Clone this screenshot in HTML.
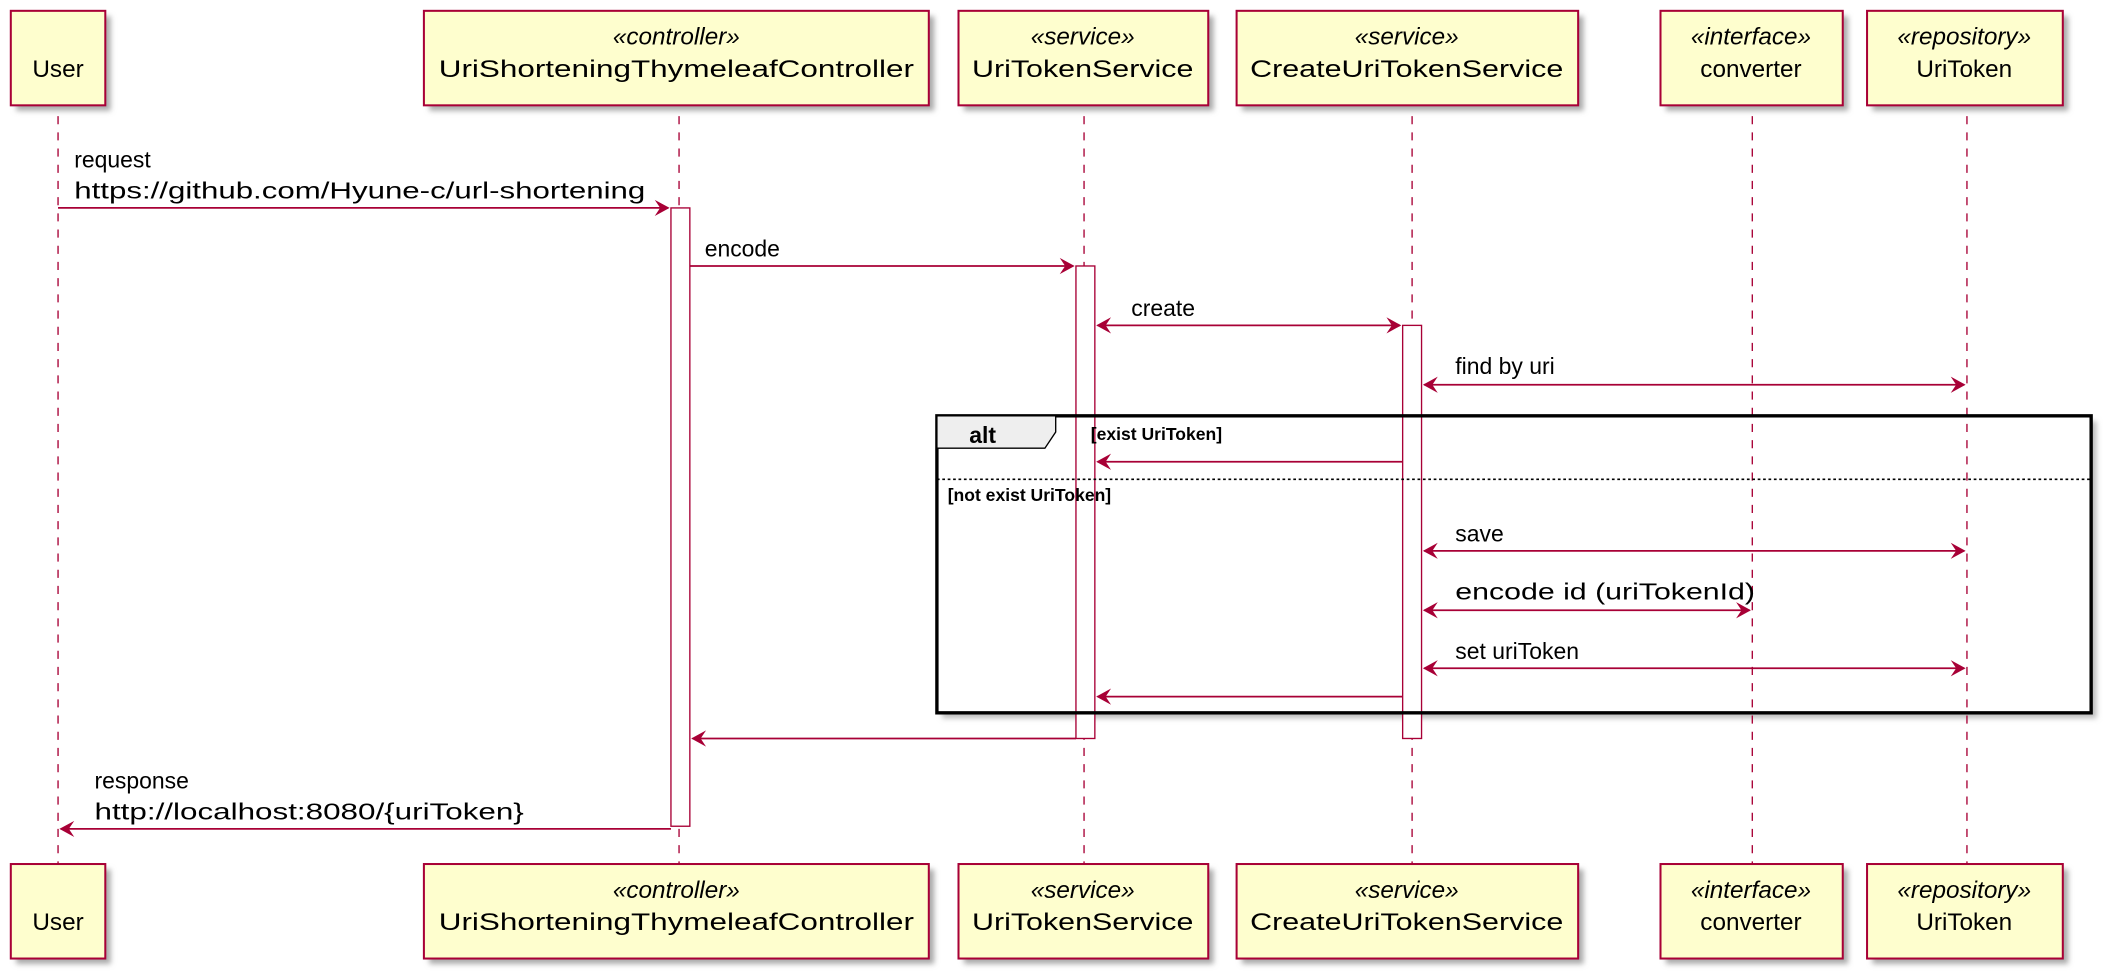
<!DOCTYPE html>
<html><head><meta charset="utf-8"><style>html,body{margin:0;padding:0;background:#fff}svg{display:block}</style></head>
<body>
<svg width="2106" height="978" viewBox="0 0 1560 724.4" xmlns="http://www.w3.org/2000/svg" font-family="Liberation Sans, sans-serif">
<defs>
<filter id="sh" x="-10%" y="-10%" width="130%" height="130%"><feGaussianBlur stdDeviation="2"/></filter>
<g id="ah"><polygon points="0,0 -11,-6 -7,0 -11,6" fill="#A80036"/></g>
</defs>
<!-- alt background -->
<rect x="698" y="312" width="855" height="220" fill="#bbb" filter="url(#sh)"/>
<rect x="694" y="308" width="855" height="220" fill="#fff"/>
<!-- lifelines -->
<g stroke="#A80036" stroke-width="1" stroke-dasharray="6,6">
<line x1="43" y1="86" x2="43" y2="640"/><line x1="503" y1="86" x2="503" y2="640"/>
<line x1="803" y1="86" x2="803" y2="640"/><line x1="1046" y1="86" x2="1046" y2="640"/>
<line x1="1298" y1="86" x2="1298" y2="640"/><line x1="1457" y1="86" x2="1457" y2="640"/>
</g>
<!-- participants -->
<g font-size="18" text-anchor="middle">
<g id="tops">
<rect x="12" y="12" width="70" height="70" fill="#aaa" filter="url(#sh)"/>
<rect x="8" y="8" width="70" height="70" fill="#FEFECE" stroke="#A80036" stroke-width="1.5"/>
<text x="43" y="57">User</text>
<rect x="318" y="12" width="374" height="70" fill="#aaa" filter="url(#sh)"/>
<rect x="314" y="8" width="374" height="70" fill="#FEFECE" stroke="#A80036" stroke-width="1.5"/>
<text x="501" y="33" font-style="italic">«controller»</text><text x="501" y="57" textLength="352" lengthAdjust="spacingAndGlyphs">UriShorteningThymeleafController</text>
<rect x="714" y="12" width="185" height="70" fill="#aaa" filter="url(#sh)"/>
<rect x="710" y="8" width="185" height="70" fill="#FEFECE" stroke="#A80036" stroke-width="1.5"/>
<text x="802" y="33" font-style="italic">«service»</text><text x="802" y="57" textLength="164" lengthAdjust="spacingAndGlyphs">UriTokenService</text>
<rect x="920" y="12" width="253" height="70" fill="#aaa" filter="url(#sh)"/>
<rect x="916" y="8" width="253" height="70" fill="#FEFECE" stroke="#A80036" stroke-width="1.5"/>
<text x="1042" y="33" font-style="italic">«service»</text><text x="1042" y="57" textLength="232" lengthAdjust="spacingAndGlyphs">CreateUriTokenService</text>
<rect x="1234" y="12" width="135" height="70" fill="#aaa" filter="url(#sh)"/>
<rect x="1230" y="8" width="135" height="70" fill="#FEFECE" stroke="#A80036" stroke-width="1.5"/>
<text x="1297" y="33" font-style="italic">«interface»</text><text x="1297" y="57">converter</text>
<rect x="1387" y="12" width="145" height="70" fill="#aaa" filter="url(#sh)"/>
<rect x="1383" y="8" width="145" height="70" fill="#FEFECE" stroke="#A80036" stroke-width="1.5"/>
<text x="1455" y="33" font-style="italic">«repository»</text><text x="1455" y="57">UriToken</text>
</g>
<use href="#tops" y="632"/>
</g>
<!-- activations -->
<g fill="#fff" stroke="#A80036" stroke-width="1">
<rect x="497" y="154" width="14" height="458"/>
<rect x="797" y="197" width="14" height="350"/>
<rect x="1039" y="241" width="14" height="306"/>
</g>
<!-- alt frame -->
<rect x="694" y="308" width="855" height="220" fill="none" stroke="#000" stroke-width="2.5"/>
<polygon points="694,308 782,308 782,320 774,332 694,332" fill="#EEE" stroke="#000" stroke-width="1"/>
<text x="718" y="328" font-size="17" font-weight="bold">alt</text>
<text x="808" y="326" font-size="13" font-weight="bold">[exist UriToken]</text>
<line x1="694" y1="355" x2="1549" y2="355" stroke="#000" stroke-width="1.2" stroke-dasharray="2,2"/>
<text x="702" y="371" font-size="13" font-weight="bold">[not exist UriToken]</text>
<!-- messages -->
<g stroke="#A80036" stroke-width="1.3">
<line x1="43" y1="154" x2="495" y2="154"/>
<line x1="511" y1="197" x2="795" y2="197"/>
<line x1="813" y1="241" x2="1037" y2="241"/>
<line x1="1055" y1="285" x2="1455" y2="285"/>
<line x1="1039" y1="342" x2="813" y2="342"/>
<line x1="1055" y1="408" x2="1455" y2="408"/>
<line x1="1055" y1="452" x2="1296" y2="452"/>
<line x1="1055" y1="495" x2="1455" y2="495"/>
<line x1="1039" y1="516" x2="813" y2="516"/>
<line x1="797" y1="547" x2="513" y2="547"/>
<line x1="497" y1="614" x2="45" y2="614"/>
</g>
<use href="#ah" transform="translate(496,154)"/>
<use href="#ah" transform="translate(796,197)"/>
<use href="#ah" transform="translate(1038,241)"/>
<use href="#ah" transform="translate(812,241) scale(-1,1)"/>
<use href="#ah" transform="translate(1456,285)"/>
<use href="#ah" transform="translate(1054,285) scale(-1,1)"/>
<use href="#ah" transform="translate(812,342) scale(-1,1)"/>
<use href="#ah" transform="translate(1456,408)"/>
<use href="#ah" transform="translate(1054,408) scale(-1,1)"/>
<use href="#ah" transform="translate(1297,452)"/>
<use href="#ah" transform="translate(1054,452) scale(-1,1)"/>
<use href="#ah" transform="translate(1456,495)"/>
<use href="#ah" transform="translate(1054,495) scale(-1,1)"/>
<use href="#ah" transform="translate(812,516) scale(-1,1)"/>
<use href="#ah" transform="translate(512,547) scale(-1,1)"/>
<use href="#ah" transform="translate(44,614) scale(-1,1)"/>
<g font-size="17">
<text x="55" y="124">request</text>
<text x="55" y="147" textLength="423" lengthAdjust="spacingAndGlyphs">https://github.com/Hyune-c/url-shortening</text>
<text x="522" y="190">encode</text>
<text x="838" y="234">create</text>
<text x="1078" y="277">find by uri</text>
<text x="1078" y="401">save</text>
<text x="1078" y="444" textLength="222" lengthAdjust="spacingAndGlyphs">encode id (uriTokenId)</text>
<text x="1078" y="488">set uriToken</text>
<text x="70" y="584">response</text>
<text x="70" y="607" textLength="318" lengthAdjust="spacingAndGlyphs">http://localhost:8080/{uriToken}</text>
</g>
</svg>
</body></html>
